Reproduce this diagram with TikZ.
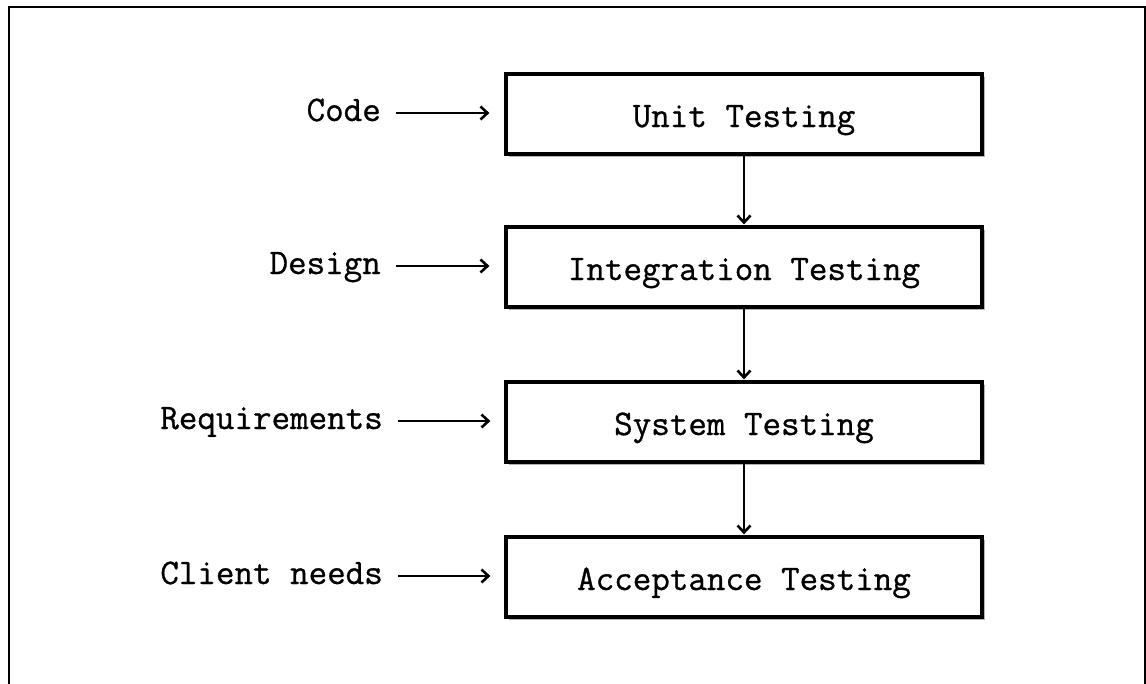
\documentclass[tikz,border=0pt]{standalone}
\usepackage{fontspec}
\newfontfamily\courfont{Latin Modern Mono}[FakeBold=0.8]
\usetikzlibrary{arrows.meta,shadows}
\begin{document}
\begin{tikzpicture}[x=1pt,y=-1pt,
  stagebox/.style={draw,line width=3.2pt,minimum width=476pt,minimum height=80pt,inner sep=0pt,
    fill=white,font=\courfont\fontsize{36}{36}\selectfont,text height=26pt,text depth=0pt,
    drop shadow={shadow xshift=2.5pt,shadow yshift=-2.5pt,opacity=0.5,fill=black!60}},
  inlabel/.style={inner sep=0pt,anchor=east,font=\courfont\fontsize{36}{36}\selectfont,text height=16pt,text depth=0pt},
  flow/.style={line width=1.4pt,-{Straight Barb[length=7pt,width=13pt,line width=2.6pt]}},
]
\useasboundingbox (0,0) rectangle (1146,683);
\fill[white] (0,0) rectangle (1146,683);
\draw[line width=2.4pt] (9,690) -- (9,7) -- (1145,7) -- (1145,690);
\node[stagebox] (u) at (744,114) {Unit Testing};
\node[stagebox] (i) at (744,267) {Integration Testing};
\node[stagebox] (s) at (744,422) {System Testing};
\node[stagebox] (a) at (744,577) {Acceptance Testing};
\node[inlabel] (lc) at (381,113) {Code};
\node[inlabel] (ld) at (381,266) {Design};
\node[inlabel] (lr) at (383,421) {Requirements};
\node[inlabel] (ln) at (383,576) {Client needs};
\draw[flow,shorten <=15pt,shorten >=15pt] (lc.east) -- (lc.east -| u.west);
\draw[flow,shorten <=15pt,shorten >=15pt] (ld.east) -- (ld.east -| i.west);
\draw[flow,shorten <=15pt,shorten >=14pt] (lr.east) -- (lr.east -| s.west);
\draw[flow,shorten <=15pt,shorten >=14pt] (ln.east) -- (ln.east -| a.west);
\draw[flow,shorten >=1pt] (u.south) -- (i.north);
\draw[flow,shorten >=1pt] (i.south) -- (s.north);
\draw[flow,shorten >=1pt] (s.south) -- (a.north);
\end{tikzpicture}
\end{document}
